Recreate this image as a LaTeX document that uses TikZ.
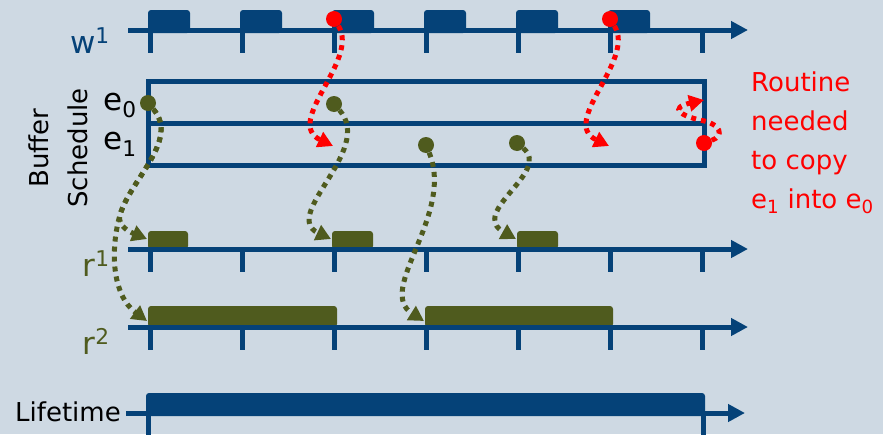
\documentclass[tikz,border=0pt]{standalone}
\usepackage{fontspec}
\setmainfont{DejaVu Sans}
\usetikzlibrary{arrows.meta}
\definecolor{tublue}{HTML}{054278}
\definecolor{moss}{HTML}{4F5B1E}
\definecolor{slate}{HTML}{CED9E3}

\begin{document}
\begin{tikzpicture}[x=1pt, y=-1pt,
    axisline/.style={tublue, line width=5pt, -{Triangle[length=17pt, width=17pt]}},
    tickline/.style={tublue, line width=5pt},
    slot/.style={fill=tublue, rounded corners=3pt},
    readslot/.style={slot, fill=moss},
    spot/.style={circle, inner sep=0pt, minimum size=16pt},
    redspot/.style={spot, fill=red},
    mossspot/.style={spot, fill=moss},
    flow/.style={line width=5pt, dash pattern=on 5pt off 5pt, -{Triangle[length=15pt, width=16pt]}},
    copyflow/.style={flow, red},
    readflow/.style={flow, moss},
    lbl/.style={font=\fontsize{26}{39}\selectfont, inner sep=0pt},
    biglbl/.style={font=\fontsize{31}{36}\selectfont, inner sep=0pt}]
  \fill[slate] (0,0) rectangle (883,434);
  \useasboundingbox (0,0) rectangle (883,434);

  % slots on the three time axes
  \foreach \x in {148,240,...,608}
    \fill[slot] (\x,10) rectangle ++(42,23);
  \foreach \x/\w in {148/40, 332/41, 517/41}
    \fill[readslot] (\x,231) rectangle ++(\w,18);
  \foreach \x/\w in {148/189, 425/188}
    \fill[readslot] (\x,306) rectangle ++(\w,21);
  \foreach \y in {30, 249, 327} {
    \draw[axisline] (128,\y) -- (748,\y);
    \foreach \x in {150,242,...,702}
      \draw[tickline] (\x,\y) -- ++(0,23);
  }

  % buffer schedule
  \draw[tickline] (148,81) rectangle (704,165);
  \draw[tickline] (148,123) -- (704,123);

  % lifetime
  \fill[slot] (146,393) rectangle (705,416);
  \draw[axisline] (126,413) -- (745,413);
  \draw[tickline] (148,413) -- (148,440);
  \draw[tickline] (703,413) -- (703,440);

  % labels
  \node[biglbl, tublue, anchor=base east] (wlbl) at (110,53) {w\textsuperscript{1}};
  \node[biglbl, moss, anchor=base east] (r1lbl) at (110,276) {r\textsuperscript{1}};
  \node[biglbl, moss, anchor=base east] (r2lbl) at (110,354) {r\textsuperscript{2}};
  \node[biglbl, anchor=base east] (e0lbl) at (137,110) {e\textsubscript{0}};
  \node[biglbl, anchor=base east] (e1lbl) at (137,149) {e\textsubscript{1}};
  \node[lbl, anchor=base east] (life) at (121,421) {Lifetime};
  \node[lbl, rotate=90, align=center] (buf) at (58,148) {Buffer\\Schedule};
  \node[lbl, red, align=left, anchor=north west] (note) at (751,72)
    {Routine\\needed\\to copy\\e\textsubscript{1} into e\textsubscript{0}};

  % writes and reads
  \node[redspot] (w3) at (334,19) {};
  \node[redspot] (w6) at (610,19) {};
  \node[redspot] (cp) at (704,143) {};
  \node[mossspot] (g0) at (148,103) {};
  \node[mossspot] (g1) at (334,104) {};
  \node[mossspot] (g2) at (426,145) {};
  \node[mossspot] (g3) at (517,143) {};
  \coordinate (t3) at (333,146);
  \coordinate (t6) at (609,146);
  \coordinate (tcp) at (704,100);
  \coordinate (a1) at (147,239);
  \coordinate (a2) at (147,321);
  \coordinate (a3) at (331,239);
  \coordinate (a4) at (424,321);
  \coordinate (a5) at (516,239);

  \draw[copyflow] (w3) .. controls (360,60) and (283,122) .. (t3);
  \draw[copyflow] (w6) .. controls (636,60) and (559,122) .. (t6);
  \draw[copyflow] (cp) .. controls (724,136) and (722,124) .. (700,120)
    .. controls (682,116) and (668,108) .. (tcp);
  \draw[readflow] (g0) .. controls (180,140) and (130,180) .. (120,215)
    .. controls (117,226) and (130,232) .. (a1);
  \draw[readflow] (g0) .. controls (180,140) and (130,180) .. (120,215)
    .. controls (110,250) and (112,295) .. (a2);
  \draw[readflow] (g1) .. controls (375,150) and (280,215) .. (a3);
  \draw[readflow] (g2) .. controls (455,215) and (375,290) .. (a4);
  \draw[readflow] (g3) .. controls (552,172) and (468,212) .. (a5);
\end{tikzpicture}
\end{document}
